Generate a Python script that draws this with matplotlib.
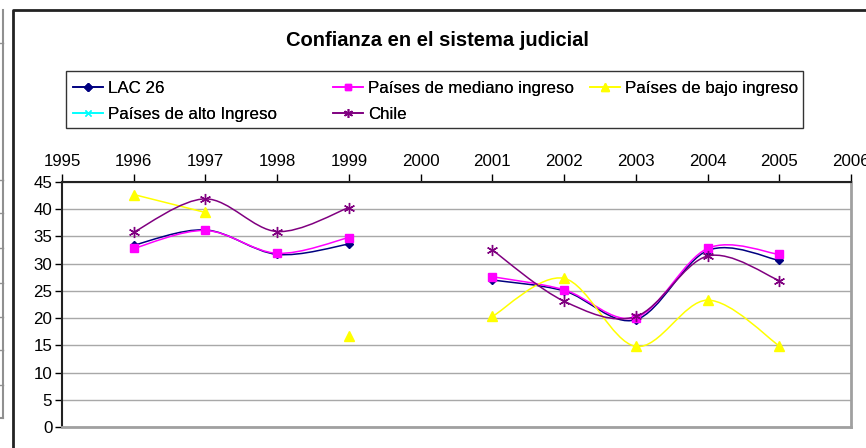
import matplotlib
matplotlib.use('Agg')
import matplotlib.pyplot as plt
from matplotlib.path import Path
from matplotlib.patches import PathPatch, Rectangle
from matplotlib.lines import Line2D
import numpy as np

plt.rcParams['font.family'] = ['Liberation Sans', 'DejaVu Sans']

W, H = 866, 448

years = [1996, 1997, 1998, 1999, 2000, 2001, 2002, 2003, 2004, 2005]
nan = np.nan
lac26 = [33.4, 36.2, 31.7, 33.6, nan, 27.0, 25.0, 19.7, 32.4, 30.6]
mediano = [32.8, 36.1, 31.9, 34.8, nan, 27.6, 25.2, 20.1, 32.8, 31.7]
bajo = [42.7, 39.4, nan, 16.8, nan, 20.3, 27.3, 14.8, 23.3, 14.9]
alto = [nan] * 10
chile = [35.8, 41.9, 35.9, 40.3, nan, 32.5, 23.1, 20.3, 31.4, 26.9]

series = [
    ('LAC 26', lac26, '#000080', 'D', 4.5),
    ('Países de mediano ingreso', mediano, '#FF00FF', 's', 6),
    ('Países de bajo ingreso', bajo, '#FFFF00', '^', 7),
    ('Países de alto Ingreso', alto, '#00FFFF', 'x', 6),
    ('Chile', chile, '#800080', (6, 2, 0), 8),
]

FS = 12.2


def smooth_path(xs, ys):
    # excel style smoothed line: bezier segments, tension 1/6
    verts, codes = [], []
    runs, cur = [], []
    for x, y in zip(xs, ys):
        if np.isnan(y):
            if cur:
                runs.append(cur)
            cur = []
        else:
            cur.append(np.array([x, y], float))
    if cur:
        runs.append(cur)
    for p in runs:
        n = len(p)
        if n < 2:
            continue
        verts.append(p[0]); codes.append(Path.MOVETO)
        for i in range(n - 1):
            pa = p[max(i - 1, 0)]
            pb = p[min(i + 2, n - 1)]
            c1 = p[i] + (p[i + 1] - pa) / 6
            c2 = p[i + 1] - (pb - p[i]) / 6
            verts += [c1, c2, p[i + 1]]
            codes += [Path.CURVE4] * 3
    if not verts:
        return None
    return Path(verts, codes)


fig = plt.figure(figsize=(W / 100, H / 100), dpi=100)

# leftover border of neighbouring chart and outer chart frame
fig.add_artist(Line2D([3 / W, 3 / W], [1 - 10 / H, 1 - 418 / H], color='#909090', lw=1.5))
fig.add_artist(Line2D([0, 3 / W], [1 - 418 / H, 1 - 418 / H], color='#909090', lw=1.5))
for yy in [43, 180, 213, 248, 283, 317, 350, 385]:
    fig.add_artist(Line2D([0, 3 / W], [1 - yy / H, 1 - yy / H], color='#909090', lw=1))
fig.add_artist(Line2D([12.5 / W, 12.5 / W, 1], [0, 1 - 10.5 / H, 1 - 10.5 / H], color='#222222', lw=2))

ax = fig.add_axes([62 / W, 1 - 427 / H, (851 - 62) / W, (427 - 182) / H])

for name, vals, color, marker, ms in series:
    path = smooth_path(years, vals)
    if path is not None:
        ax.add_patch(PathPatch(path, facecolor='none', edgecolor=color, lw=1.1, zorder=3))
    ax.plot(years, vals, linestyle='none', marker=marker, color=color,
            markersize=ms, markeredgewidth=1.0, zorder=4)

ax.set_xlim(1995, 2006)
ax.set_ylim(0, 45)
ax.set_xticks(range(1995, 2007))
ax.set_yticks(range(0, 46, 5))
ax.xaxis.tick_top()
ax.tick_params(axis='x', direction='out', length=6, width=1, pad=3, labelsize=FS, colors='black')
ax.tick_params(axis='y', direction='out', length=5, width=1, pad=2, labelsize=FS, colors='black')
ax.yaxis.grid(True, color='#a8a8a8', lw=1)
ax.set_axisbelow(True)
ax.spines['top'].set_color('#222222')
ax.spines['top'].set_linewidth(1.5)
ax.spines['left'].set_color('#222222')
ax.spines['left'].set_linewidth(1.5)
ax.spines['right'].set_color('#a0a0a0')
ax.spines['right'].set_linewidth(2)
ax.spines['bottom'].set_color('#a0a0a0')
ax.spines['bottom'].set_linewidth(2)

fig.text(437 / W, 1 - 41 / H, 'Confianza en el sistema judicial', ha='center', va='center',
         fontsize=14.5, fontweight='bold')

# legend box with three columns
fig.add_artist(Rectangle((66 / W, 1 - 128 / H), (803 - 66) / W, (128 - 71) / H,
                         transform=fig.transFigure, facecolor='white', edgecolor='#333333', lw=1))


def handle(i):
    name, vals, color, marker, ms = series[i]
    return Line2D([], [], color=color, marker=marker, markersize=ms * 0.8, lw=1.2, markeredgewidth=1)


columns = [([0, 3], 73, 101.5), ([1, 4], 333, 101.5), ([2], 590, 88)]
for idx, x0, yc in columns:
    leg = fig.legend([handle(i) for i in idx], [series[i][0] for i in idx],
                     loc='center left', bbox_to_anchor=(x0 / W, 1 - yc / H),
                     frameon=False, borderpad=0, borderaxespad=0, fontsize=FS,
                     handlelength=1.75, handletextpad=0.3, labelspacing=0.68)
    fig.add_artist(leg)

fig.savefig('out.png', dpi=100)
